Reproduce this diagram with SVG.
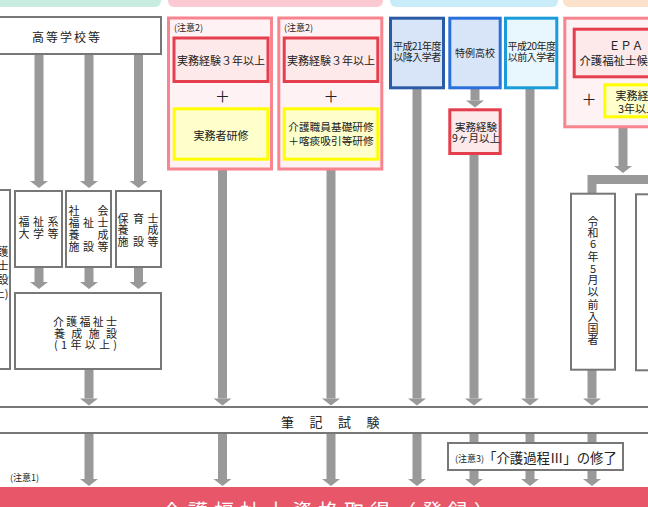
<svg xmlns="http://www.w3.org/2000/svg" width="648" height="507" viewBox="0 0 648 507">
<style>
text{font-family:"Noto Sans CJK JP","Noto Sans",sans-serif;fill:#222;}
.s9{font-size:9px;}
.s10{font-size:10px;}
.s11{font-size:11px;}
.m{text-anchor:middle;}
.gbox{fill:#fff;stroke:#777;stroke-width:2;}
.pink{fill:#fff2f4;stroke:#f7848f;stroke-width:3;}
.red{fill:#fde8ea;stroke:#e53e4c;stroke-width:3;}
.yel{fill:#ffffcc;stroke:#ffff00;stroke-width:3;}
.arr{stroke:#999;stroke-width:9;fill:none;marker-end:url(#ah);}
.bar{stroke:#999;stroke-width:9;fill:none;}
</style>
<defs>
<marker id="ah" markerUnits="userSpaceOnUse" markerWidth="8" markerHeight="20" refX="0" refY="9" orient="auto" viewBox="0 0 8 18" overflow="visible">
<path d="M0,0 L7,9 L0,18 Z" fill="#999"/>
</marker>
</defs>
<rect width="648" height="507" fill="#fff"/>
<g id="strips">
<rect x="-10" y="-10" width="171" height="17" rx="6" fill="#c8ece0"/>
<rect x="168" y="-10" width="215" height="17" rx="6" fill="#fbc9d1"/>
<rect x="390" y="-10" width="168" height="17" rx="6" fill="#c9ecfb"/>
<rect x="563" y="-10" width="100" height="17" rx="6" fill="#fde2cb"/>
</g>
<g id="connectors">
<line class="arr" x1="39" y1="55" x2="39" y2="181"/>
<line class="arr" x1="89" y1="55" x2="89" y2="181"/>
<line class="arr" x1="138.5" y1="55" x2="138.5" y2="181"/>
<line class="arr" x1="39" y1="267" x2="39" y2="282"/>
<line class="arr" x1="89" y1="267" x2="89" y2="282"/>
<line class="arr" x1="138.5" y1="267" x2="138.5" y2="282"/>
<line class="arr" x1="89" y1="369" x2="89" y2="398.5"/>
<line class="arr" x1="222.5" y1="170" x2="222.5" y2="398.5"/>
<line class="arr" x1="331" y1="170" x2="331" y2="398.5"/>
<line class="arr" x1="417" y1="89" x2="417" y2="398.5"/>
<line class="arr" x1="475" y1="89" x2="475" y2="100.5"/>
<line class="arr" x1="474" y1="155" x2="474" y2="398.5"/>
<line class="arr" x1="530" y1="89" x2="530" y2="398.5"/>
<line class="arr" x1="623" y1="128" x2="623" y2="166"/>
<path class="bar" d="M592,194 V179.5 H660"/>
<line class="arr" x1="592" y1="370" x2="592" y2="398.5"/>
<line class="arr" x1="89" y1="433" x2="89" y2="479"/>
<line class="arr" x1="222.5" y1="433" x2="222.5" y2="479"/>
<line class="arr" x1="331" y1="433" x2="331" y2="479"/>
<line class="arr" x1="417" y1="433" x2="417" y2="479"/>
<line class="arr" x1="474" y1="433" x2="474" y2="479"/>
<line class="arr" x1="530" y1="433" x2="530" y2="479"/>
<line class="arr" x1="592" y1="433" x2="592" y2="479"/>
</g>
<g id="n-koukou">
<rect class="gbox" x="-5" y="17" width="166" height="37"/>
<text x="67" y="42" class="m" style="font-size:12px;letter-spacing:2px">高等学校等</text>
</g>
<g id="n-left2nen">
<rect class="gbox" x="-60" y="190" width="70" height="179"/>
<text class="s11" text-anchor="end"><tspan x="8.5" y="256">介護</tspan><tspan x="8.5" y="270">福祉士</tspan><tspan x="8.5" y="284">養成施設</tspan><tspan x="8.5" y="298">(2年以上)</tspan></text>
</g>
<g id="n-fukushidai">
<rect class="gbox" x="15" y="191" width="47" height="76"/>
<text class="s11 m"><tspan x="24" y="226.2">福</tspan><tspan x="38.5" y="226.2">祉</tspan><tspan x="53" y="226.2">系</tspan><tspan x="24" y="238.2">大</tspan><tspan x="38.5" y="238.2">学</tspan><tspan x="53" y="238.2">等</tspan></text>
</g>
<g id="n-shafuku">
<rect class="gbox" x="66" y="191" width="45" height="76"/>
<text class="s11 m"><tspan x="74" y="215.2">社</tspan><tspan x="103" y="215.2">会</tspan><tspan x="74" y="227.4">福</tspan><tspan x="88.5" y="227.4">祉</tspan><tspan x="103" y="227.4">士</tspan><tspan x="74" y="239.2">養</tspan><tspan x="103" y="239.2">成</tspan><tspan x="74" y="251.2">施</tspan><tspan x="88.5" y="251.2">設</tspan><tspan x="103" y="251.2">等</tspan></text>
</g>
<g id="n-hoiku">
<rect class="gbox" x="116" y="191" width="45" height="76"/>
<text class="s11 m"><tspan x="123" y="222.7">保</tspan><tspan x="138.5" y="222.7">育</tspan><tspan x="153" y="222.7">士</tspan><tspan x="123" y="234.2">養</tspan><tspan x="153" y="234.2">成</tspan><tspan x="123" y="245.7">施</tspan><tspan x="138.5" y="245.7">設</tspan><tspan x="153" y="245.7">等</tspan></text>
</g>
<g id="n-1nen">
<rect class="gbox" x="15" y="293" width="146" height="76"/>
<text class="s11"><tspan x="53" y="326" textLength="64" lengthAdjust="spacing">介護福祉士</tspan><tspan x="54" y="337.5" textLength="63" lengthAdjust="spacing">養成施設</tspan><tspan x="54" y="349.3" textLength="63" lengthAdjust="spacing">(1年以上)</tspan></text>
</g>
<g id="n-jitsumusha">
<rect class="pink" x="168.5" y="18" width="103" height="151"/>
<text x="174" y="30.5" class="s9">(注意2)</text>
<rect class="red" x="174" y="38" width="94" height="43.5"/>
<text x="221" y="65.2" class="s11 m">実務経験３年以上</text>
<text x="222.5" y="101.5" class="m" style="font-size:15px">＋</text>
<rect class="yel" x="174.2" y="108.8" width="93.6" height="50.4"/>
<text x="221" y="139.9" class="s11 m">実務者研修</text>
</g>
<g id="n-kiso">
<rect class="pink" x="278.8" y="18" width="103" height="151"/>
<text x="284" y="30.5" class="s9">(注意2)</text>
<rect class="red" x="284.2" y="38" width="93.6" height="43.5"/>
<text x="331" y="65.2" class="s11 m">実務経験３年以上</text>
<text x="331" y="101.5" class="m" style="font-size:15px">＋</text>
<rect class="yel" x="284.2" y="108.8" width="93.6" height="50.4"/>
<text class="m" style="font-size:10.7px"><tspan x="331" y="131">介護職員基礎研修</tspan><tspan x="331" y="145">＋喀痰吸引等研修</tspan></text>
</g>
<g id="n-h21">
<rect x="390.5" y="18.2" width="53" height="69.6" fill="#d8e5f8" stroke="#2b5aa6" stroke-width="3"/>
<text class="s10 m" style="letter-spacing:-0.5px"><tspan x="417" y="49.5">平成21年度</tspan><tspan x="417" y="60.5">以降入学者</tspan></text>
</g>
<g id="n-tokurei">
<rect x="449.8" y="18.2" width="50.4" height="69.6" fill="#d8e5f8" stroke="#2a70dc" stroke-width="3"/>
<text x="475" y="56.5" class="s10 m">特例高校</text>
</g>
<g id="n-h20">
<rect x="505.5" y="18.2" width="51.3" height="69.6" fill="#e8f6fd" stroke="#1a9cd8" stroke-width="3"/>
<text class="s10 m" style="letter-spacing:-0.5px"><tspan x="531.5" y="49.5">平成20年度</tspan><tspan x="531.5" y="60.5">以前入学者</tspan></text>
</g>
<g id="n-9month">
<rect class="red" x="449.8" y="109.8" width="50.4" height="43.7"/>
<text class="m" style="font-size:10.5px"><tspan x="476" y="130.8">実務経験</tspan><tspan x="476" y="141.5">9ヶ月以上</tspan></text>
</g>
<g id="n-epa">
<rect class="pink" x="564.8" y="18.2" width="110" height="108.6"/>
<rect class="red" x="574.2" y="29.2" width="110" height="47.6"/>
<text x="626" y="49.5" class="m" style="font-size:11.5px">ＥＰＡ</text>
<text x="625" y="65.3" class="m" style="font-size:11.4px">介護福祉士候補者</text>
<text x="589" y="105" class="m" style="font-size:15px">＋</text>
<rect class="yel" x="604.8" y="84.8" width="80" height="32"/>
<text class="s11 m"><tspan x="637.5" y="100.2">実務経験</tspan><tspan x="637.5" y="112.5">3年以上</tspan></text>
</g>
<g id="n-reiwa">
<rect class="gbox" x="571" y="193.7" width="44" height="176"/>
<text class="s11 m"><tspan x="593" y="225.9">令</tspan><tspan x="593" y="236.7">和</tspan><tspan x="593" y="247.6">6</tspan><tspan x="593" y="260.9">年</tspan><tspan x="593" y="272.7">5</tspan><tspan x="593" y="284.2">月</tspan><tspan x="593" y="295.9">以</tspan><tspan x="593" y="308.5">前</tspan><tspan x="593" y="320.9">入</tspan><tspan x="593" y="332.5">国</tspan><tspan x="593" y="344.2">者</tspan></text>
</g>
<g id="n-right">
<rect class="gbox" x="636" y="194.3" width="40" height="176"/>
</g>
<g id="n-hikki">
<rect x="-5" y="407" width="660" height="26" fill="#fff" stroke="#777" stroke-width="2"/>
<text x="281" y="426.6" style="font-size:13px;letter-spacing:15.5px">筆記試験</text>
</g>
<g id="n-note3">
<rect class="gbox" x="448" y="443" width="175" height="27"/>
<text x="455" y="462" class="s9">(注意3)</text>
<text x="483" y="463" style="font-size:13.4px">「介護過程Ⅲ」の修了</text>
</g>
<text x="10" y="480.5" class="s9">(注意1)</text>
<g id="n-shikaku">
<rect x="-5" y="487" width="660" height="30" fill="#e8566a"/>
<text x="162" y="519" style="font-size:20px;letter-spacing:6px;fill:#fff">介護福祉士資格取得（登録）</text>
</g>
</svg>
